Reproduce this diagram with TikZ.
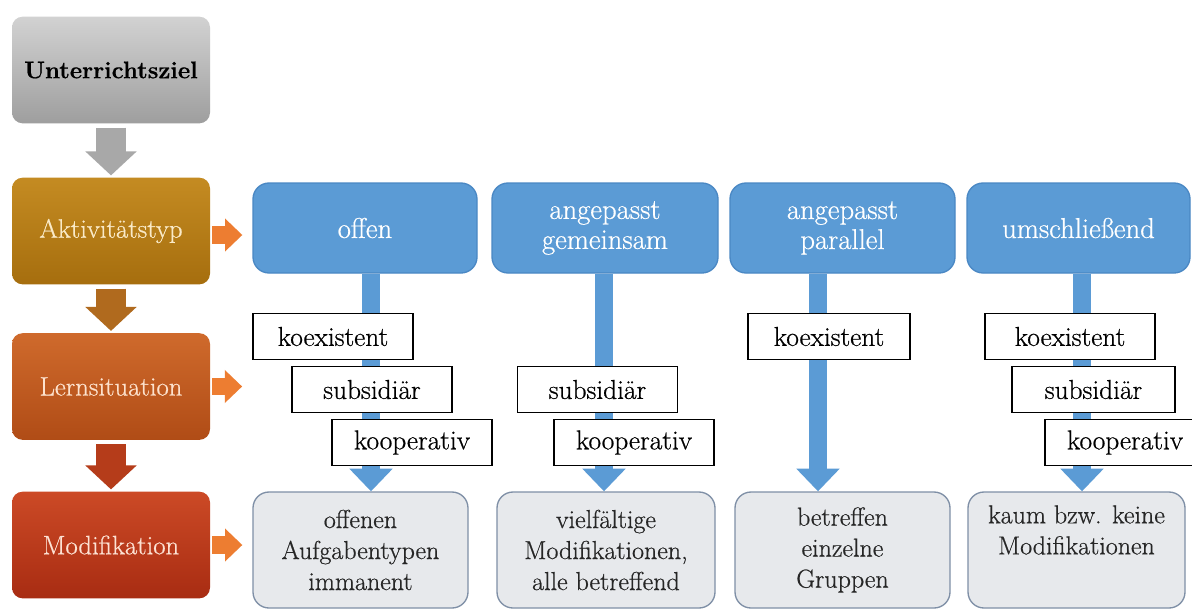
\documentclass[tikz,border=0pt]{standalone}
\usepackage{fontspec}
\setmainfont{Latin Modern Roman}[FakeBold=0.6]
\usetikzlibrary{arrows.meta,calc}
\definecolor{myblue}{HTML}{5B9BD5}
\definecolor{myblueb}{HTML}{4A88C4}
\definecolor{botfill}{HTML}{E7E9EC}
\definecolor{botborder}{HTML}{7F8FA6}
\definecolor{orangearr}{HTML}{ED7D31}
\definecolor{grayA}{HTML}{D2D2D2}
\definecolor{grayB}{HTML}{9E9E9E}
\definecolor{aktA}{HTML}{C48B22}
\definecolor{aktB}{HTML}{A66E0E}
\definecolor{lernA}{HTML}{CF6A2C}
\definecolor{lernB}{HTML}{B04C16}
\definecolor{modA}{HTML}{CC4A26}
\definecolor{modB}{HTML}{A82C12}
\definecolor{arrgray}{HTML}{A8A8A8}
\definecolor{arrbrown}{HTML}{B06A1E}
\definecolor{arrred}{HTML}{B53C1A}
\begin{document}
\begin{tikzpicture}[x=0.75pt,y=-0.75pt,
  leftbox/.style={rounded corners=8pt, minimum width=148.5pt, minimum height=80pt,
    inner sep=0pt, font=\fontsize{20}{24}\selectfont},
  bluebox/.style={rounded corners=12pt, fill=myblue, draw=myblueb, line width=1pt,
    minimum height=67.5pt, text=white, align=center, inner sep=0pt,
    font=\fontsize{21.5}{22.5}\selectfont},
  botbox/.style={rounded corners=12pt, fill=botfill, draw=botborder, line width=1pt,
    minimum height=87pt, align=center, inner sep=0pt, text=black!85,
    font=\fontsize{19.5}{23.25}\selectfont},
  lab/.style={draw=black, line width=1.3pt, fill=white, minimum height=34.5pt,
    minimum width=120pt, inner sep=0pt, font=\fontsize{20.5}{24}\selectfont},
  vblock/.style={line width=22.5pt, -{Triangle[width=37.5pt,length=18pt]},
    shorten <=3pt, shorten >=1.5pt},
  bshaft/.style={myblue, line width=13.5pt, -{Triangle[width=31.5pt,length=17pt]}},
  oblock/.style={orangearr, line width=13pt, -{Triangle[width=24pt,length=13pt]},
    shorten <=1.5pt, shorten >=7.5pt}
]
\useasboundingbox (0,0) rectangle (1192,611);
\fill[white] (0,0) rectangle (1192,611);

% left column
\node[leftbox, top color=grayA, bottom color=grayB, text=black, font=\fontsize{18}{22}\selectfont\bfseries]
  (ziel) at (111,70) {Unterrichtsziel};
\node[leftbox, top color=aktA, bottom color=aktB, text={rgb,255:red,250;green,234;blue,200}]
  (akt) at (111,231) {Aktivitätstyp};
\node[leftbox, top color=lernA, bottom color=lernB, text={rgb,255:red,253;green,226;blue,205}]
  (lern) at (111,386.5) {Lernsituation};
\node[leftbox, top color=modA, bottom color=modB, text={rgb,255:red,253;green,226;blue,212}]
  (mod) at (111,545) {Modifikation};

\draw[vblock, arrgray] (ziel.south) -- (akt.north);
\draw[vblock, arrbrown] (akt.south) -- (lern.north);
\draw[vblock, arrred] (lern.south) -- (mod.north);

% blue boxes
\node[bluebox, minimum width=168pt] (off) at (365,228) {offen};
\node[bluebox, minimum width=169.5pt] (gem) at (605,228) {angepasst\\gemeinsam};
\node[bluebox, minimum width=168.75pt] (par) at (842.5,228) {angepasst\\parallel};
\node[bluebox, minimum width=167.25pt] (ums) at (1078.5,228) {umschließend};

% bottom boxes
\node[botbox, minimum width=161.25pt] (b1) at (360.5,550) {offenen\\Aufgabentypen\\immanent};
\node[botbox, minimum width=163.5pt] (b2) at (606,550) {vielfältige\\Modifikationen,\\alle betreffend};
\node[botbox, minimum width=161.25pt] (b3) at (842.5,550) {betreffen\\einzelne\\Gruppen};
\node[botbox, minimum width=162.75pt] (b4) at (1076.5,550) {kaum bzw. keine\\Modifikationen\\\strut};

% orange arrows
\draw[oblock] ($(akt.east)+(0,4)$) -- ($(akt.east -| off.west)+(0,4)$);
\draw[oblock] (mod.east) -- (mod.east -| b1.west);

% blue shafts
\coordinate (s1) at ($(off.south)+(6,0)$);
\coordinate (s2) at ($(gem.south)+(-1,0)$);
\coordinate (s3) at ($(par.south)+(-24.5,0)$);
\coordinate (s4) at ($(ums.south)+(3.5,0)$);
\draw[bshaft] (s1) -- (s1 |- b1.north);
\draw[bshaft] (s2) -- (s2 |- b2.north);
\draw[bshaft] (s3) -- (s3 |- b3.north);
\draw[bshaft] (s4) -- (s4 |- b4.north);

% labels
\node[lab] (k1) at (333,336.5) {koexistent};
\node[lab] (u1) at (372,389.5) {subsidiär};
\node[lab] (c1) at (412,442.5) {kooperativ};
\node[lab] (u2) at (597.5,389.5) {subsidiär};
\node[lab] (c2) at (634,442.5) {kooperativ};
\node[lab, minimum width=121.5pt] (k3) at (829,336.5) {koexistent};
\node[lab, minimum width=127.5pt] (k4) at (1070,336.5) {koexistent};
\node[lab, minimum width=122.25pt] (u4) at (1093.5,389.5) {subsidiär};
\node[lab, minimum width=120pt] (c4) at (1125,442.5) {kooperativ};

\draw[oblock] (lern.east) -- (lern.east -| k1.west);
\end{tikzpicture}
\end{document}
